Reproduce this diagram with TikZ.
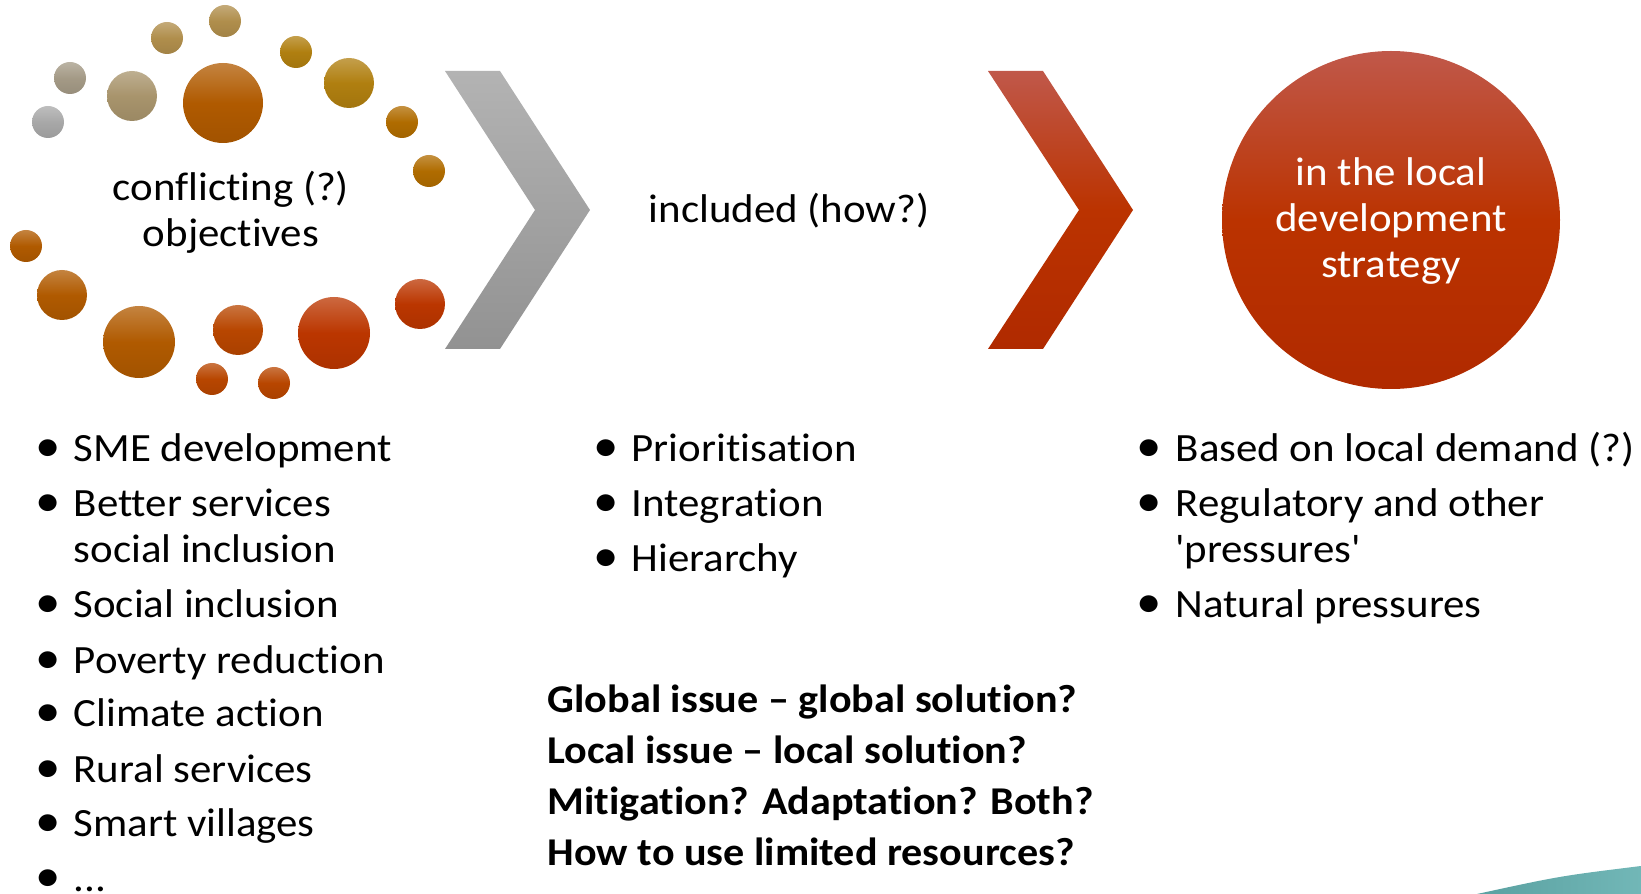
\documentclass[tikz,border=0pt]{standalone}
\usepackage{fontspec}
\setmainfont{Carlito}[FakeStretch=1.07,Ligatures=NoCommon]
\definecolor{bubgrey}{HTML}{A8A8A8}
\definecolor{bubstone}{HTML}{A49A86}
\definecolor{bubsand}{HTML}{A8946C}
\definecolor{bubtan}{HTML}{B08E4C}
\definecolor{bubgold}{HTML}{B07F10}
\definecolor{bubamber}{HTML}{B06C00}
\definecolor{buborange}{HTML}{B05A00}
\definecolor{bubrust}{HTML}{B84600}
\definecolor{bubred}{HTML}{BB3600}
\definecolor{chevtop}{HTML}{B3B3B3}
\definecolor{chevbottom}{HTML}{929292}
\definecolor{ldstop}{HTML}{C0584A}
\definecolor{ldsmid}{HTML}{BB3300}
\definecolor{ldsbottom}{HTML}{B02A00}
\definecolor{cornerteal}{HTML}{62AFAF}
\begin{document}
\begin{tikzpicture}[x=0.01cm,y=0.01cm]
	\tikzstyle{every node}=[font=\fontsize{11.4}{13.1}\selectfont,inner sep=0pt]
	\tikzstyle{itemtext}=[anchor=base west,align=left]
	\tikzstyle{bulletmark}=[anchor=base,font=\fontsize{13.5}{13.5}\selectfont]
	\tikzstyle{question}=[anchor=base west,align=left,font=\fontsize{11.2}{14.5}\selectfont\bfseries]
	\useasboundingbox (0,0) rectangle (1641,-894);
	% bubbles round the objectives
	\foreach \x/\y/\r/\c in {48/122/16/bubgrey, 70/78/16/bubstone, 132/96/25/bubsand,
		167/38/16/bubtan, 225/21/16/bubtan, 223/103/40/buborange, 296/52/16/bubgold,
		349/83/25/bubgold, 402/122/16/bubamber, 429/171/16/bubamber, 26/246/16/buborange,
		62/295/25/buborange, 139/342/36/buborange, 238/330/25/bubrust, 212/379/16/bubrust,
		274/383/16/bubrust, 334/333/36/bubred, 420/304/25/bubred}
		\shade[top color=\c!75!white, bottom color=\c!92!black, middle color=\c] (\x,-\y) circle (\r);
	\node[align=center,anchor=base] (objectives) at (231,-247) {conflicting (?)\\objectives};
	% chevrons
	\shade[top color=chevtop, bottom color=chevbottom] (445,-71) -- (500,-71) -- (590,-210) -- (500,-349) -- (445,-349) -- (535,-210) -- cycle;
	\node[anchor=base] (included) at (789,-223) {included (how?)};
	\shade[top color=ldstop, bottom color=ldsbottom, middle color=ldsmid] (988,-71) -- (1043,-71) -- (1133,-210) -- (1043,-349) -- (988,-349) -- (1079,-210) -- cycle;
	% strategy circle
	\shade[top color=ldstop, bottom color=ldsbottom, middle color=ldsmid] (1391,-220) circle (169);
	\node[align=center,anchor=base,text=white] (strategy) at (1391,-278) {in the local\\development\\strategy};
	% lists (first line, last line, text)
	\foreach \y/\l/\txt [count=\i] in {462/462/SME development, 517/563/{Better services\\social inclusion},
		618/618/Social inclusion, 673/673/Poverty reduction, 727/727/Climate action,
		782/782/Rural services, 837/837/Smart villages, 892/892/{.{}.{}.}}{
		\node[bulletmark] (objbul\i) at (48,-\y) {\textbullet};
		\node[itemtext] (objitem\i) at (73,-\l) {\txt};
	}
	\foreach \y/\txt [count=\i] in {462/Prioritisation, 517/Integration, 572/Hierarchy}{
		\node[bulletmark] (howbul\i) at (606,-\y) {\textbullet};
		\node[itemtext] (howitem\i) at (631,-\y) {\txt};
	}
	\foreach \y/\l/\txt [count=\i] in {462/462/Based on local demand (?),
		517/563/{Regulatory and other\\\textquotesingle pressures\textquotesingle}, 618/618/Natural pressures}{
		\node[bulletmark] (ldsbul\i) at (1149,-\y) {\textbullet};
		\node[itemtext] (ldsitem\i) at (1175,-\l) {\txt};
	}
	\node[question] (questions) at (547,-865) {Global issue -- global solution?\\Local issue -- local solution?\\Mitigation? Adaptation? Both?\\How to use limited resources?};
	% corner
	\shade[left color=cornerteal!92!black, right color=cornerteal!90!white] (1477,-894) .. controls (1560,-876) .. (1641,-866) -- (1641,-894) -- cycle;
\end{tikzpicture}
\end{document}
